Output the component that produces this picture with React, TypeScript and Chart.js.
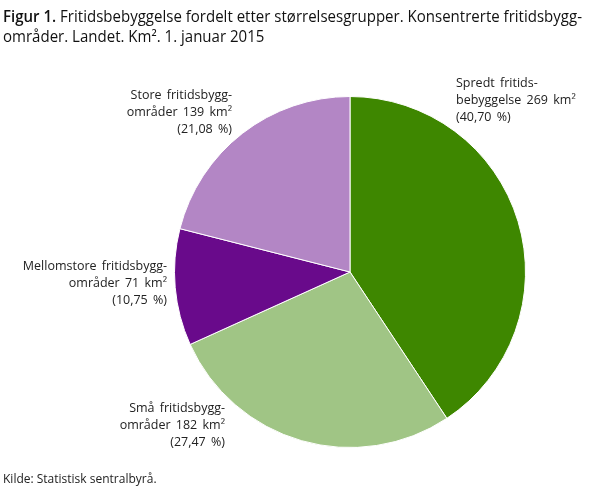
import React, { useEffect, useRef } from 'react';
import { Chart, registerables } from 'chart.js';

Chart.register(...registerables);

const categories = [
  'Spredt fritidsbebyggelse',
  'Små fritidsbyggområder',
  'Mellomstore fritidsbyggområder',
  'Store fritidsbyggområder',
];
const nameLines = [
  ['Spredt fritids-', 'bebyggelse'],
  ['Små fritidsbygg-', 'områder'],
  ['Mellomstore fritidsbygg-', 'områder'],
  ['Store fritidsbygg-', 'områder'],
];
const areaKm2 = [269, 182, 71, 139];
const percentLabels = ['40,70', '27,47', '10,75', '21,08'];
const sliceColors = ['#3e8700', '#a0c585', '#690a8b', '#b386c5'];

const titleBold = 'Figur 1. ';
const titleLine1 = 'Fritidsbebyggelse fordelt etter størrelsesgrupper. Konsentrerte fritidsbygg-';
const titleLine2 = 'områder. Landet. Km². 1. januar 2015';
const sourceText = 'Kilde: Statistisk sentralbyrå.';

// label anchor offsets relative to pie centre (layout only)
const labelLayout = [
  { dx: 106, dy: -189, align: 'left' },
  { dx: -125, dy: 136, align: 'right' },
  { dx: -183, dy: -6, align: 'right' },
  { dx: -118, dy: -177, align: 'right' },
];

const FONT = '"Open Sans", "DejaVu Sans", sans-serif';

const textPlugin = {
  id: 'customText',
  afterDraw(chart: any) {
    const ctx = chart.ctx as CanvasRenderingContext2D;
    ctx.save();
    // title
    ctx.fillStyle = '#111';
    ctx.textBaseline = 'alphabetic';
    ctx.textAlign = 'left';
    ctx.font = `600 15.5px ${FONT}`;
    const wb = ctx.measureText(titleBold).width;
    ctx.font = `400 15.5px ${FONT}`;
    const w1 = ctx.measureText(titleLine1).width;
    const sx = 579 / (wb + w1);
    ctx.save();
    ctx.translate(3, 0);
    ctx.scale(sx, 1);
    ctx.font = `600 15.5px ${FONT}`;
    ctx.fillText(titleBold, 0, 22);
    ctx.font = `400 15.5px ${FONT}`;
    ctx.fillText(titleLine1, wb, 22);
    ctx.fillText(titleLine2, 0, 42);
    ctx.restore();

    // labels
    const meta = chart.getDatasetMeta(0);
    const arc0 = meta.data[0];
    const cx = arc0.x;
    const cy = arc0.y;
    ctx.font = `400 12.5px ${FONT}`;
    ctx.fillStyle = '#222';
    ctx.textBaseline = 'middle';
    try { (ctx as any).wordSpacing = '2px'; } catch (e) {}
    labelLayout.forEach((l, i) => {
      const lines = [
        nameLines[i][0],
        `${nameLines[i][1]} ${areaKm2[i]} km²`,
        `(${percentLabels[i]} %)`,
      ];
      ctx.textAlign = l.align as CanvasTextAlign;
      lines.forEach((t, j) => {
        ctx.fillText(t, cx + l.dx, cy + l.dy + j * 17);
      });
    });
    try { (ctx as any).wordSpacing = '0px'; } catch (e) {}

    // source
    ctx.textAlign = 'left';
    ctx.textBaseline = 'middle';
    ctx.fillStyle = '#222';
    ctx.font = `400 12px ${FONT}`;
    ctx.fillText(sourceText, 3, 480);
    ctx.restore();
  },
};

export default function App() {
  const ref = useRef<HTMLCanvasElement>(null);
  useEffect(() => {
    document.body.style.margin = '0';
    if (!ref.current) return;
    const chart = new Chart(ref.current, {
      type: 'pie',
      data: {
        labels: categories,
        datasets: [
          {
            data: areaKm2,
            backgroundColor: sliceColors,
            borderColor: '#ffffff',
            borderWidth: 1,
          },
        ],
      },
      options: {
        animation: false,
        responsive: false,
        layout: { padding: { left: 174, right: 82, top: 96, bottom: 41 } },
        plugins: {
          legend: { display: false },
          tooltip: { enabled: false },
          title: { display: false },
        },
      },
      plugins: [textPlugin],
    });
    return () => chart.destroy();
  }, []);
  return (
    <div style={{ width: 608, height: 489, background: '#fff' }}>
      <canvas ref={ref} width={608} height={489} style={{ display: 'block' }} />
    </div>
  );
}
